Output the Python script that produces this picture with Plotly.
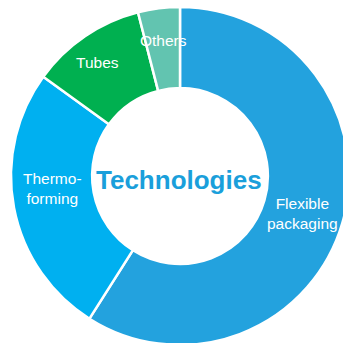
import plotly.graph_objects as go

# Share of technologies (percent)
categories = ["Flexible packaging", "Thermoforming", "Tubes", "Others"]
shares = [59, 26, 11, 4]
slice_colors = ["#23A2DE", "#00B0F0", "#00B050", "#62C4B0"]

# Label text as drawn on the ring, with its position in paper coordinates
label_text = ["Flexible<br>packaging", "Thermo-<br>forming", "Tubes", "Others"]
label_x = [302, 52, 97, 163]
label_y = [213, 188, 63, 40]

W = H = 350

fig = go.Figure(
    go.Pie(
        labels=categories,
        values=shares,
        hole=0.52,
        sort=False,
        direction="clockwise",
        rotation=0,
        marker=dict(colors=slice_colors, line=dict(color="white", width=2.5)),
        textinfo="none",
        hoverinfo="label+percent",
        showlegend=False,
        domain=dict(x=[11 / W, 349 / W], y=[(H - 345) / H, (H - 7) / H]),
    )
)

for t, x, y in zip(label_text, label_x, label_y):
    fig.add_annotation(
        text=t, x=x / W, y=1 - y / H, xref="paper", yref="paper",
        xanchor="center", yanchor="middle",
        showarrow=False, font=dict(family="Arial", size=15.5, color="white"),
        align="center",
    )

fig.add_annotation(
    text="<b>Technologies</b>", x=179 / W, y=1 - 180 / H, xref="paper", yref="paper",
    xanchor="center", yanchor="middle",
    showarrow=False, font=dict(family="Arial", size=26, color="#1A9FDB"),
)

fig.update_layout(
    width=W, height=H,
    margin=dict(l=0, r=0, t=0, b=0),
    paper_bgcolor="white", plot_bgcolor="white",
)

fig.write_html("out.html", post_script="document.body.style.overflow='hidden';document.body.style.margin='0';")
